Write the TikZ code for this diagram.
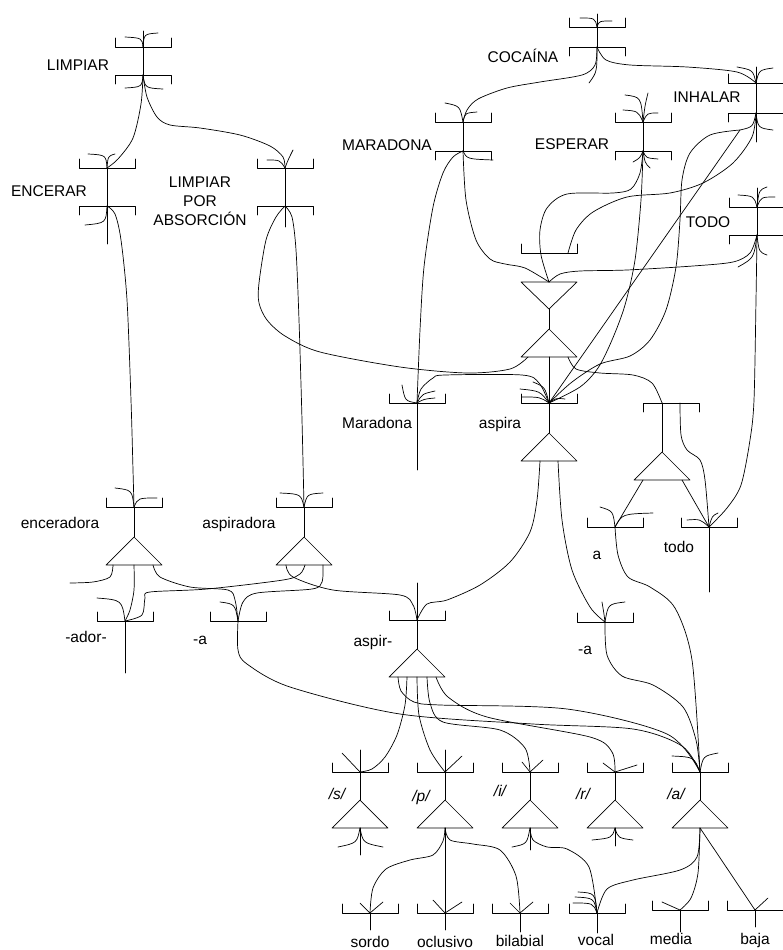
\documentclass[tikz,border=0pt]{standalone}
\usepackage{fontspec}
\setmainfont{Liberation Sans}
\newcommand\fanc[3]{\draw[ln] (#1) .. controls (#2) .. (#3);}
\begin{document}
\begin{tikzpicture}[x=1pt,y=-1pt,
  ln/.style={line width=0.7pt,line cap=round,line join=round},
  lbl/.style={font=\fontsize{15.5}{19}\selectfont,inner sep=0pt,anchor=base},
  ilbl/.style={lbl,font=\fontsize{15.5}{19}\selectfont\itshape},
  bu/.pic={\draw[ln] (-28,-9)--(-28,0)--(28,0)--(28,-9);},
  bd/.pic={\draw[ln] (-28,9)--(-28,0)--(28,0)--(28,9);},
  tu/.pic={\draw[ln] (0,0)--(-28,28)--(28,28)--cycle;},
  td/.pic={\draw[ln] (0,0)--(-28,-27)--(28,-27)--cycle;}]
\useasboundingbox (0,0) rectangle (783,950);
% ---------- coordinates ----------
\coordinate (limT) at (143,47); \coordinate (limB) at (143,75);
\coordinate (encT) at (107,168); \coordinate (encB) at (107,206);
\coordinate (lpaT) at (285,168); \coordinate (lpaB) at (285,206);
\coordinate (cocT) at (597,27); \coordinate (cocB) at (597,47);
\coordinate (marT) at (463,122); \coordinate (marB) at (463,151);
\coordinate (espT) at (643,122); \coordinate (espB) at (643,151);
\coordinate (inhT) at (756,83); \coordinate (inhB) at (756,113); \coordinate (inhK) at (740,130);
\coordinate (todT) at (757,207); \coordinate (todB) at (757,235);
\coordinate (stk) at (549,253); \coordinate (stkR) at (568,253);
\coordinate (invTop) at (549,282); \coordinate (invA) at (549,309);
\coordinate (andA) at (549,329); \coordinate (andBL) at (528,357); \coordinate (andBR) at (568,357); \coordinate (andBC) at (549,357);
\coordinate (asp) at (549,403); \coordinate (mrd) at (417,403);
\coordinate (aspA) at (549,433); \coordinate (aspBL) at (540,461); \coordinate (aspBR) at (558,461);
\coordinate (atL) at (662,403); \coordinate (atR) at (680,403); \coordinate (atC) at (671,403);
\coordinate (atA) at (662,452); \coordinate (atBL) at (643,480); \coordinate (atBR) at (682,480);
\coordinate (aJ) at (615,527); \coordinate (todoJ) at (709,527);
\coordinate (encdJ) at (134,507); \coordinate (encdA) at (134,537);
\coordinate (encdB1) at (113,565); \coordinate (encdB2) at (134,565); \coordinate (encdB3) at (153,565); \coordinate (encdF) at (70,583);
\coordinate (aspdJ) at (304,507); \coordinate (aspdA) at (304,537);
\coordinate (aspdB1) at (286,565); \coordinate (aspdB2) at (305,565); \coordinate (aspdB3) at (323,565);
\coordinate (adorJ) at (125,621); \coordinate (aLJ) at (238,621);
\coordinate (aspirJ) at (417,620); \coordinate (aspirA) at (417,649);
\coordinate (ab1) at (398,677); \coordinate (ab2) at (407,677); \coordinate (ab3) at (417,677); \coordinate (ab4) at (427,677); \coordinate (ab5) at (436,677);
\coordinate (aRJ) at (605,622);
\foreach \n/\x in {s/360,p/445,i/530,r/615,aa/700}{
  \coordinate (\n J) at (\x,772); \coordinate (\n A) at (\x,800); \coordinate (\n B) at (\x,828);}
\coordinate (sorJ) at (370,913); \coordinate (oclJ) at (445,913); \coordinate (bilJ) at (520,913);
\coordinate (vocJ) at (597,913); \coordinate (medJ) at (680,910); \coordinate (bajJ) at (755,910);
% ---------- brackets and triangles ----------
\foreach \c in {limT,encT,lpaT,cocT,marT,espT,inhT,todT,stk,asp,mrd,aJ,todoJ,encdJ,aspdJ,adorJ,aLJ,aspirJ,aRJ,sJ,pJ,iJ,rJ,aaJ,sorJ,oclJ,bilJ,vocJ,medJ,bajJ}
  \pic at (\c) {bu};
\foreach \c in {limB,encB,lpaB,cocB,marB,espB,inhB,todB,atC}
  \pic at (\c) {bd};
\foreach \c in {andA,aspA,atA,encdA,aspdA,aspirA,sA,pA,iA,rA,aaA}
  \pic at (\c) {tu};
\pic at (invA) {td};
% ---------- vertical strokes ----------
\draw[ln] (143,31) -- (limB);
\draw[ln] (encT) -- (107,244);
\draw[ln] (lpaT) -- (285,227);
\draw[ln] (597,14) -- (cocB);
\draw[ln] (marT) -- (marB);
\draw[ln] (espT) -- (espB);
\draw[ln] (756,67) -- (756,142);
\draw[ln] (757,188) -- (todB);
\draw[ln] (invA) -- (andA);
\draw[ln] (andBC) -- (aspA);
\draw[ln] (mrd) -- (417,470);
\draw[ln] (atL) -- (atA);
\draw[ln] (todoJ) -- (709,592);
\draw[ln] (encdJ) -- (encdA);
\draw[ln] (aspdJ) -- (aspdA);
\draw[ln] (adorJ) -- (125,673);
\draw[ln] (417,583) -- (aspirA);
\draw[ln] (360,750) -- (sA); \draw[ln] (445,750) -- (pA);
\draw[ln] (iJ) -- (iA); \draw[ln] (rJ) -- (rA); \draw[ln] (aaJ) -- (aaA);
\draw[ln] (sB) -- (360,855); \draw[ln] (iB) -- (530,850); \draw[ln] (rB) -- (615,846);
\draw[ln] (pB) -- (oclJ);
\draw[ln] (sorJ) -- (370,930); \draw[ln] (oclJ) -- (445,930); \draw[ln] (bilJ) -- (520,932);
\draw[ln] (vocJ) -- (597,933); \draw[ln] (medJ) -- (680,932); \draw[ln] (bajJ) -- (755,927);
% ---------- connectors ----------
\draw[ln] plot[smooth] coordinates {(limB) (141,104) (133,138) (118,159) (encT)};
\draw[ln] plot[smooth] coordinates {(limB) (147,97) (157,117) (170,125) (200,128) (240,135) (270,146) (283,157) (lpaT)};
\draw[ln] plot[smooth] coordinates {(encB) (115,214) (121,240) (127,300) (131,400) (133,470) (encdJ)};
\draw[ln] plot[smooth] coordinates {(lpaB) (292,217) (296,250) (299,320) (302,420) (aspdJ)};
\draw[ln] plot[smooth] coordinates {(lpaB) (276,217) (266,240) (259,283) (259,303) (267,320) (285,336) (320,352) (400,367) (467,373) (510,369) (andBL)};
\draw[ln] plot[smooth] coordinates {(cocB) (595,65) (582,75) (540,82) (507,88) (478,99) (467,110) (marT)};
\draw[ln] plot[smooth] coordinates {(cocB) (606,60) (630,65) (687,67) (737,72) (inhT)};
\draw[ln] plot[smooth] coordinates {(marB) (453,157) (443,173) (433,207) (424,267) (420,330) (mrd)};
\draw[ln] plot[smooth] coordinates {(marB) (466,200) (476,240) (490,259) (505,264) (525,268) (invTop)};
\draw[ln] plot[smooth] coordinates {(espB) (640,173) (631,189) (613,193) (567,194) (547,208) (540,230) (541,255) (invTop)};
\draw[ln] plot[smooth] coordinates {(espB) (641,200) (635,260) (625,305) (612,340) (598,368) (580,387) (asp)};
\draw[ln] plot[smooth] coordinates {(inhB) (752,137) (733,163) (703,183) (670,193) (627,197) (593,212) (576,230) (stkR)};
\draw[ln] (inhB) .. controls (753,127) .. (inhK) -- (asp);
\draw[ln] plot[smooth] coordinates {(inhK) (710,135) (690,153) (682,180) (680,220) (676,267) (666,310) (650,340) (630,356) (600,364) (572,382) (asp)};
\draw[ln] plot[smooth] coordinates {(todB) (750,253) (733,262) (693,266) (627,270) (580,271) (560,274) (invTop)};
\draw[ln] plot[smooth] coordinates {(todB) (756,300) (754,400) (750,440) (741,485) (727,508) (todoJ)};
\draw[ln] plot[smooth] coordinates {(mrd) (421,389) (433,378) (445,375) (522,375) (539,383) (asp)};
\draw[ln] plot[smooth] coordinates {(andBR) (576,369) (600,373) (633,375) (652,383) (atL)};
\draw[ln] plot[smooth] coordinates {(atR) (681,435) (687,450) (700,460) (705,480) (todoJ)};
\draw[ln] (atBL) -- (aJ);
\draw[ln] (atBR) -- (todoJ);
\draw[ln] plot[smooth] coordinates {(aspBL) (537,500) (530,532) (510,562) (480,585) (447,600) (427,604) (aspirJ)};
\draw[ln] plot[smooth] coordinates {(aspBR) (562,520) (572,570) (590,607) (aRJ)};
\draw[ln] plot[smooth] coordinates {(aJ) (618,555) (628,577) (650,587) (675,608) (692,660) (aaJ)};
\draw[ln] plot[smooth] coordinates {(aRJ) (607,655) (622,676) (653,685) (683,707) (696,740) (aaJ)};
\draw[ln] plot[smooth] coordinates {(encdB1) (110,577) (93,582) (encdF)};
\draw[ln] plot[smooth] coordinates {(encdB2) (134,590) (130,610) (adorJ)};
\draw[ln] plot[smooth] coordinates {(encdB3) (160,577) (190,587) (228,590) (235,600) (aLJ)};
\draw[ln] plot[smooth] coordinates {(aspdB1) (293,577) (333,590) (400,595) (413,605) (aspirJ)};
\draw[ln] plot[smooth] coordinates {(aspdB2) (300,574) (283,580) (207,589) (150,592) (145,598) (142,615) (adorJ)};
\draw[ln] plot[smooth] coordinates {(aspdB3) (322,582) (312,589) (257,593) (243,602) (aLJ)};
\draw[ln] plot[smooth] coordinates {(aLJ) (238,650) (247,664) (290,687) (400,714) (533,724) (633,729) (682,746) (aaJ)};
\draw[ln] plot[smooth] coordinates {(ab1) (401,691) (414,702) (440,705) (567,709) (667,734) (aaJ)};
\draw[ln] plot[smooth] coordinates {(ab2) (405,705) (397,735) (385,757) (372,769) (sJ)};
\draw[ln] plot[smooth] coordinates {(ab3) (419,715) (430,750) (pJ)};
\draw[ln] plot[smooth] coordinates {(ab4) (430,703) (443,722) (500,730) (525,748) (iJ)};
\draw[ln] plot[smooth] coordinates {(ab5) (448,697) (487,717) (590,737) (612,752) (rJ)};
\draw[ln] plot[smooth] coordinates {(pB) (443,841) (433,855) (410,860) (386,869) (373,888) (sorJ)};
\draw[ln] plot[smooth] coordinates {(pB) (450,840) (473,844) (500,850) (516,876) (bilJ)};
\draw[ln] plot[smooth] coordinates {(iB) (533,840) (547,847) (567,849) (589,867) (vocJ)};
\draw[ln] plot[smooth] coordinates {(aaB) (697,857) (680,870) (633,880) (607,889) (vocJ)};
\draw[ln] plot[smooth] coordinates {(aaB) (698,873) (691,898) (medJ)};
\draw[ln] (aaB) -- (bajJ);
% ---------- fans ----------
\fanc{limT}{142,38}{125,37} \fanc{limT}{144,34}{158,33}
\fanc{limB}{142,87}{125,88} \fanc{limB}{145,88}{163,89}
\fanc{encT}{106,155}{88,154} \fanc{encT}{108,156}{115,154}
\fanc{encB}{106,223}{85,225}
\fanc{lpaT}{280,160}{267,160} \fanc{lpaT}{288,160}{293,150}
\fanc{cocT}{595,18}{580,18} \fanc{cocT}{599,21}{612,21}
\fanc{cocB}{597,72}{589,83}
\fanc{marT}{460,106}{445,103} \fanc{marT}{465,113}{477,112}
\fanc{marB}{467,159}{493,160}
\fanc{espT}{641,97}{625,95} \fanc{espT}{645,105}{648,93}
\fanc{espT}{638,111}{623,110} \fanc{espT}{647,113}{658,113}
\fanc{espB}{640,158}{633,162} \fanc{espB}{645,163}{650,168} \fanc{espB}{646,158}{658,159}
\fanc{inhT}{753,70}{737,67} \fanc{inhT}{759,70}{773,68}
\fanc{inhB}{758,128}{773,130}
\fanc{todT}{754,196}{738,195} \fanc{todT}{761,197}{775,197} \fanc{todT}{759,190}{767,187}
\fanc{todB}{754,258}{738,267} \fanc{todB}{759,252}{767,255}
\fanc{asp}{540,391}{520,389} \fanc{asp}{545,387}{533,382} \fanc{asp}{540,397}{522,397} \fanc{asp}{556,398}{565,399}
\fanc{mrd}{405,401}{402,385} \fanc{mrd}{422,394}{435,391} \fanc{mrd}{424,399}{435,398}
\fanc{aJ}{613,511}{600,507} \fanc{aJ}{622,514}{653,513}
\fanc{todoJ}{700,519}{687,520} \fanc{todoJ}{712,516}{718,513}
\fanc{encdJ}{132,490}{115,488} \fanc{encdJ}{138,498}{157,498}
\fanc{aspdJ}{301,494}{280,493} \fanc{aspdJ}{307,494}{323,493}
\fanc{adorJ}{122,600}{97,598}
\fanc{aLJ}{235,604}{220,602}
\fanc{aRJ}{604,614}{602,602} \fanc{aRJ}{608,604}{625,602}
\fanc{aaJ}{694,757}{672,756} \fanc{aaJ}{703,756}{718,753}
\fanc{vocJ}{593,903}{573,903} \fanc{vocJ}{594,898}{575,897} \fanc{vocJ}{595,893}{578,892}
\fanc{sB}{357,843}{338,847} \fanc{sB}{363,843}{383,847}
\fanc{iB}{527,844}{512,847}
\fanc{rB}{612,838}{592,840} \fanc{rB}{618,838}{633,840}
\draw[ln] (342,753) -- (sJ);
\draw[ln] (462,756) -- (pJ);
\draw[ln] (522,762) -- (iJ) -- (543,760);
\draw[ln] (603,763) -- (rJ) -- (637,765);
\draw[ln] (360,903) -- (sorJ) -- (383,902);
\draw[ln] (433,900) -- (oclJ) -- (462,902);
\draw[ln] (510,903) -- (bilJ) -- (533,902);
\draw[ln] (662,902) -- (medJ);
\draw[ln] (768,898) -- (bajJ);
% ---------- labels ----------
\node[lbl] (tLIM) at (78,70.5) {LIMPIAR};
\node[lbl] (tENC) at (49,196.5) {ENCERAR};
\node[font=\fontsize{15.5}{19}\selectfont,inner sep=0pt,align=center,anchor=north] (tLPA) at (200,176.5) {LIMPIAR\\POR\\ABSORCIÓN};
\node[lbl] (tCOC) at (523,62.5) {COCAÍNA};
\node[lbl] (tMAR) at (387,150.5) {MARADONA};
\node[lbl] (tESP) at (572,149.5) {ESPERAR};
\node[lbl] (tINH) at (707,102.5) {INHALAR};
\node[lbl] (tTOD) at (708,227.5) {TODO};
\node[lbl] (tMrd) at (377,428) {Maradona};
\node[lbl] (tAsp) at (500,428) {aspira};
\node[lbl] (tA) at (597,559) {a};
\node[lbl] (tTodo) at (679,552.5) {todo};
\node[lbl] (tEncd) at (60,528) {enceradora};
\node[lbl] (tAspd) at (239,528) {aspiradora};
\node[lbl] (tAdor) at (86,642) {-ador-};
\node[lbl] (tAL) at (200,644) {-a};
\node[lbl] (tAspir) at (373,646) {aspir-};
\node[lbl] (tAR) at (585,654) {-a};
\node[ilbl] (tS) at (337,799) {/s/};
\node[ilbl] (tP) at (421,801) {/p/};
\node[ilbl] (tI) at (500,796) {/i/};
\node[ilbl] (tR) at (583,799) {/r/};
\node[ilbl] (tAA) at (676,799) {/a/};
\node[lbl] (tSor) at (370,947) {sordo};
\node[lbl] (tOcl) at (445,947) {oclusivo};
\node[lbl] (tBil) at (520,946.5) {bilabial};
\node[lbl] (tVoc) at (596,945.5) {vocal};
\node[lbl] (tMed) at (671,944) {media};
\node[lbl] (tBaj) at (755,944) {baja};
\end{tikzpicture}
\end{document}
